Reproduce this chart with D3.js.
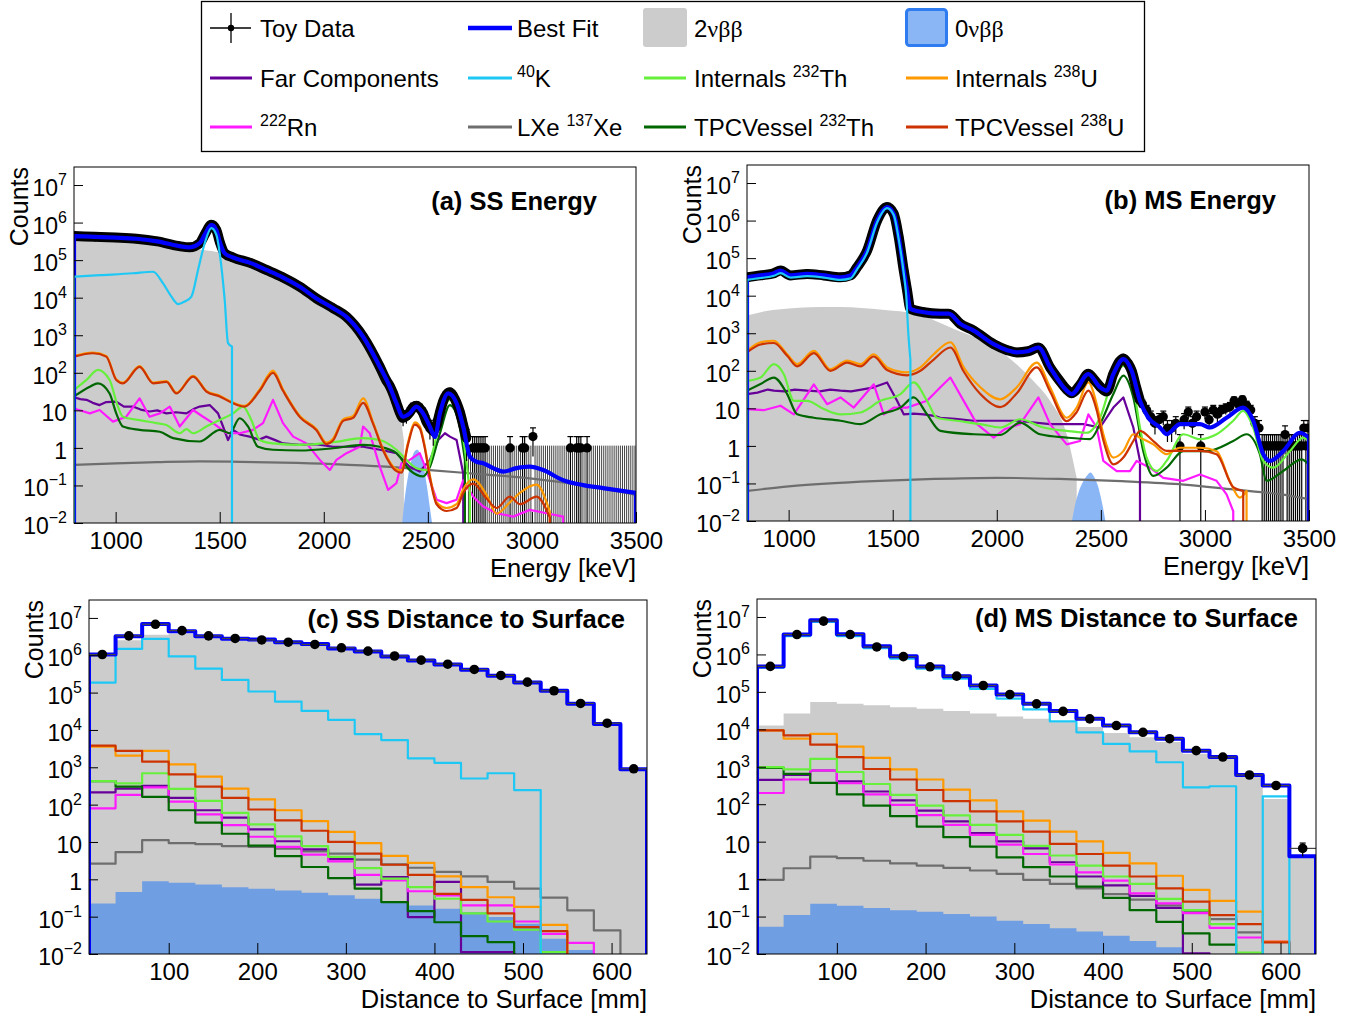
<!DOCTYPE html>
<html>
<head>
<meta charset="utf-8">
<script src="https://cdn.jsdelivr.net/npm/d3@7"></script>
<style>
  body { margin: 0; background: #fff; }
  text { font-family: "Liberation Sans", Arial, Helvetica, sans-serif; fill: #000; }
</style>
</head>
<body>
<svg id="fig" width="1367" height="1021"></svg>
<script>
// every count below is log10(counts); null = empty bin

// ---------- (a) SS energy : [keV, log10 counts] ----------
const ssTotal = [[800,5.64],[900,5.62],[1000,5.6],[1100,5.57],[1200,5.5],[1300,5.38],[1356,5.34],[1404,5.45],[1430,5.7],[1460,5.94],[1484,5.8],[1500,5.49],[1524,5.18],[1564,5.07],[1650,4.92],[1724,4.74],[1800,4.55],[1885,4.29],[1965,3.98],[2045,3.72],[2109,3.49],[2189,2.96],[2269,2.16],[2317,1.63],[2349,1.19],[2381,0.83],[2413,0.92],[2445,1.1],[2477,0.92],[2510,0.56],[2534,0.29],[2558,0.92],[2598,1.45],[2638,1.19],[2670,0.56],[2702,-0.23],[2734,-0.37],[2766,-0.41],[2814,-0.54],[2862,-0.63],[2926,-0.54],[2990,-0.5],[3054,-0.59],[3150,-0.86],[3246,-0.99],[3342,-1.07],[3500,-1.2]];
const ssData = [[800,5.64],[900,5.62],[1000,5.6],[1100,5.57],[1200,5.5],[1300,5.38],[1356,5.34],[1404,5.45],[1430,5.7],[1460,5.94],[1484,5.8],[1500,5.49],[1524,5.18],[1564,5.07],[1650,4.92],[1724,4.74],[1800,4.55],[1885,4.29],[1965,3.98],[2045,3.72],[2109,3.49],[2189,2.96],[2269,2.16],[2300,1.8],[2317,1.65],[2333,1.45],[2349,1.2],[2365,0.95],[2381,0.8],[2397,0.85],[2413,0.95],[2429,1.08],[2445,1.12],[2461,1.05],[2477,0.93],[2493,0.7],[2510,0.55],[2526,0.45],[2542,0.6],[2558,0.95],[2574,1.25],[2590,1.42],[2606,1.48],[2622,1.38],[2638,1.2],[2654,0.95],[2670,0.6],[2686,0.25]];
// high-energy tail of the SS toy data: 10 keV bins, only the non-empty ones listed
const ssTailE = [2715,2725,2735,2745,2755,2765,2775,2895,2955,2965,3005,3185,3215,3225,3235,3265];
const ssTailN = [1,1,1,1,1,1,1,1,1,1,2,1,1,1,1,1];
const ssEmptyRange = [2690, 3500];
const ssBB2 = [[800,5.6],[900,5.59],[1000,5.57],[1100,5.53],[1200,5.46],[1300,5.35],[1400,5.28],[1460,5.24],[1500,5.2],[1564,5.06],[1650,4.91],[1724,4.73],[1800,4.54],[1885,4.28],[1965,3.97],[2045,3.7],[2109,3.46],[2189,2.93],[2269,2.12],[2317,1.58],[2349,1.12],[2370,0.75],[2385,0.2],[2395,null]];
const ssBB0 = [[2375,-2.1],[2390,-1.3],[2405,-0.75],[2420,-0.35],[2435,-0.1],[2450,-0.05],[2465,-0.2],[2480,-0.5],[2495,-1.0],[2510,-1.6],[2525,-2.2]];
const ssK40 = [[800,4.56],[925,4.6],[1083,4.65],[1180,4.69],[1228,4.38],[1268,4.03],[1300,3.83],[1332,3.9],[1364,4.03],[1396,4.74],[1428,5.45],[1460,5.85],[1484,5.67],[1500,5.18],[1524,3.94],[1540,2.79],[1559,2.7],[1560,null]];
const ssUInt = [[800,2.45],[891,2.54],[955,2.45],[1003,1.83],[1035,1.74],[1115,2.18],[1180,1.74],[1244,1.78],[1292,1.47],[1372,1.92],[1436,1.52],[1500,1.39],[1564,1.21],[1620,1.12],[1692,1.56],[1756,2.06],[1804,1.56],[1885,0.85],[1965,0.5],[2013,0.14],[2045,0.25],[2093,0.76],[2141,0.85],[2189,1.32],[2237,0.68],[2285,-0.03],[2349,-0.57],[2373,-0.6],[2405,0.15],[2437,0.68],[2461,0.58],[2485,0.05],[2510,-0.74],[2542,-1.45],[2590,-1.6],[2638,-1.5],[2670,-1.1],[2718,-0.84],[2782,-1.25],[2830,-1.75],[2894,-1.45],[2942,-1.2],[3022,-0.98],[3086,-1.7],[3118,null]];
const ssUVes = [[800,2.43],[891,2.52],[955,2.43],[1003,1.81],[1035,1.72],[1115,2.16],[1180,1.72],[1244,1.76],[1292,1.45],[1372,1.9],[1436,1.5],[1500,1.37],[1564,1.19],[1620,1.1],[1692,1.52],[1756,2.0],[1804,1.52],[1885,0.82],[1965,0.47],[2013,0.1],[2045,0.2],[2093,0.72],[2141,0.8],[2189,1.2],[2237,0.64],[2285,-0.07],[2349,-0.62],[2373,-0.66],[2405,0.1],[2437,0.62],[2461,0.52],[2485,0.0],[2510,-0.8],[2542,-1.5],[2590,-1.68],[2638,-1.6],[2670,-1.2],[2718,-0.95],[2782,-1.35],[2830,-1.6],[2894,-1.3],[2942,-1.5],[3022,-1.3],[3086,-1.85],[3110,null]];
const ssThInt = [[800,1.54],[860,1.81],[915,2.08],[971,1.81],[1011,1.1],[1035,0.83],[1115,0.74],[1196,0.66],[1244,0.61],[1308,0.39],[1340,0.5],[1372,0.39],[1436,0.57],[1500,0.74],[1564,0.92],[1612,1.1],[1652,0.74],[1692,0.21],[1756,0.12],[1885,0.08],[2045,0.15],[2189,0.26],[2269,0.21],[2349,-0.05],[2397,-0.32],[2445,-0.54],[2493,-0.59],[2526,-0.05],[2558,0.74],[2606,1.28],[2646,0.92],[2678,-0.05],[2702,-1.2],[2710,null]];
const ssThVes = [[800,1.37],[876,1.63],[915,1.72],[971,1.45],[1003,0.92],[1035,0.57],[1115,0.48],[1212,0.43],[1276,0.26],[1404,0.17],[1500,0.48],[1548,0.39],[1596,0.79],[1636,0.57],[1684,0.03],[1756,-0.05],[1885,-0.07],[2045,-0.01],[2189,0.08],[2269,0.03],[2349,-0.14],[2413,-0.59],[2477,-0.76],[2510,-0.5],[2558,0.39],[2606,1.14],[2646,0.74],[2678,-0.32],[2702,null]];
const ssFar = [[800,1.35],[830,1.3],[860,1.28],[890,1.2],[923,1.14],[955,1.22],[1003,1.23],[1040,1.1],[1083,1.1],[1120,1.02],[1163,0.97],[1200,1.0],[1244,0.92],[1290,0.95],[1340,0.92],[1380,1.05],[1404,1.1],[1452,1.14],[1492,0.92],[1516,0.57],[1540,0.21],[1564,0.48],[1600,0.35],[1644,0.3],[1690,0.22],[1724,0.3],[1770,0.2],[1804,0.12],[1885,0.08],[1960,0.1],[2045,0.03],[2109,0.03],[2189,0.03],[2269,-0.05],[2349,-0.14],[2413,-0.5],[2461,-0.63],[2510,-0.32],[2550,0.21],[2582,0.39],[2606,0.3],[2638,0.21],[2670,-0.68],[2686,null]];
const ssRn = [[800,1.05],[876,0.92],[923,1.01],[987,0.7],[1051,0.83],[1115,1.32],[1163,0.83],[1212,0.92],[1260,1.1],[1308,0.57],[1372,1.01],[1420,0.83],[1468,0.66],[1532,0.39],[1596,0.39],[1660,0.48],[1708,0.66],[1756,1.28],[1804,0.66],[1853,0.3],[1917,0.12],[1981,-0.32],[2029,-0.59],[2061,-0.32],[2109,-0.14],[2173,0.03],[2189,0.57],[2221,0.39],[2269,-0.5],[2309,-1.12],[2349,-0.94],[2373,-0.41],[2413,-0.32],[2461,-0.14],[2493,-0.59],[2542,-1.38],[2590,-1.47],[2638,-1.38],[2670,-0.86],[2718,-1.3],[2766,-1.56],[2830,-1.74],[2910,-1.83],[2990,-1.65],[3070,-1.74],[3150,-1.83],[3198,null]];
const ssXe = [[800,-0.45],[1000,-0.41],[1200,-0.38],[1404,-0.36],[1600,-0.37],[1800,-0.39],[2045,-0.43],[2300,-0.5],[2510,-0.59],[2750,-0.7],[2990,-0.81],[3250,-1.0],[3500,-1.25]];

// ---------- (b) MS energy ----------
const msTotal = [[800,4.49],[865,4.54],[930,4.6],[961,4.67],[1009,4.54],[1089,4.58],[1169,4.54],[1249,4.49],[1297,4.54],[1329,4.76],[1377,5.2],[1425,6.0],[1473,6.36],[1505,6.18],[1529,5.56],[1553,4.67],[1569,4.14],[1585,3.65],[1649,3.56],[1729,3.52],[1769,3.52],[1825,3.25],[1889,3.07],[1985,2.71],[2050,2.55],[2096,2.49],[2150,2.52],[2200,2.62],[2256,2.09],[2336,1.47],[2360,1.38],[2440,1.91],[2496,1.56],[2528,1.47],[2560,1.91],[2608,2.31],[2648,2.0],[2688,1.2],[2728,0.75],[2784,0.49],[2816,0.31],[2880,0.58],[2976,0.58],[3024,0.49],[3104,0.75],[3184,1.02],[3232,0.67],[3280,-0.22],[3312,-0.4],[3376,-0.14],[3456,0.35],[3500,0.22]];
const msData = [[800,4.49],[865,4.54],[930,4.6],[961,4.67],[1009,4.54],[1089,4.58],[1169,4.54],[1249,4.49],[1297,4.54],[1329,4.76],[1377,5.2],[1425,6.0],[1473,6.36],[1505,6.18],[1529,5.56],[1553,4.67],[1569,4.14],[1585,3.65],[1649,3.56],[1729,3.52],[1769,3.52],[1825,3.25],[1889,3.07],[1985,2.71],[2050,2.55],[2096,2.49],[2150,2.52],[2200,2.62],[2256,2.09],[2300,1.75],[2336,1.5],[2360,1.4],[2400,1.62],[2440,1.92],[2470,1.75],[2496,1.58],[2528,1.45],[2560,1.92],[2590,2.25],[2608,2.33],[2630,2.2],[2648,2.0],[2670,1.55],[2688,1.2]];
// MS toy data above 2700 keV: 20 keV bins from 2700, then 10 keV bins from 3275
const msMidStart = 2700, msMidStep = 20;
const msMidN = [13,9,6,4,5,6,3,3,4,1,5,8,4,6,1,8,5,9,7,9,10,11,16,13,17,12,9,4,3];
const msTailStart = 3275, msTailStep = 10;
const msTailN = [1,1,1,1,1,1,1,1,1,1,1,2,1,1,1,1,1,1,1,1,3,1,3];
const msBB2 = [[800,3.47],[900,3.6],[1000,3.66],[1100,3.69],[1209,3.7],[1300,3.69],[1400,3.65],[1500,3.6],[1569,3.56],[1650,3.45],[1729,3.27],[1800,3.1],[1900,2.88],[2000,2.58],[2100,2.15],[2176,1.73],[2256,1.2],[2336,0.31],[2384,-0.85],[2395,null]];
const msBB0 = [[2355,-2.2],[2375,-1.6],[2395,-1.2],[2415,-0.95],[2435,-0.78],[2450,-0.71],[2465,-0.8],[2485,-1.05],[2505,-1.5],[2525,-2.1]];
const msK40 = [[800,4.42],[865,4.47],[930,4.53],[961,4.6],[1009,4.48],[1089,4.52],[1169,4.48],[1249,4.42],[1297,4.46],[1329,4.7],[1377,5.15],[1425,5.95],[1473,6.33],[1505,6.15],[1529,5.5],[1553,4.6],[1565,4.0],[1575,3.0],[1585,2.3],[1590,null]];
const msUInt = [[800,2.53],[865,2.76],[929,2.8],[993,2.44],[1041,2.18],[1121,2.53],[1201,2.04],[1281,2.27],[1345,2.18],[1409,2.44],[1473,2.09],[1569,1.96],[1633,2.09],[1697,2.44],[1777,2.76],[1841,2.09],[1921,1.56],[2016,1.24],[2096,1.56],[2192,2.22],[2256,1.56],[2336,0.75],[2384,1.02],[2440,1.69],[2480,1.11],[2512,0.31],[2560,-0.31],[2608,-0.14],[2656,0.31],[2688,0.22],[2752,0.04],[2816,-0.22],[2880,-0.05],[2976,-0.05],[3056,-0.14],[3120,-0.94],[3168,-1.38],[3200,-1.2],[3232,null]];
const msUVes = [[800,2.49],[865,2.7],[929,2.74],[993,2.4],[1041,2.12],[1121,2.47],[1201,2.0],[1281,2.22],[1345,2.12],[1409,2.38],[1473,2.02],[1569,1.88],[1633,2.0],[1697,2.3],[1777,2.62],[1841,1.98],[1921,1.38],[2016,1.03],[2096,1.4],[2192,2.09],[2256,1.45],[2336,0.66],[2384,0.9],[2440,1.47],[2480,0.95],[2512,0.15],[2560,-0.49],[2608,-0.31],[2656,0.13],[2688,0.4],[2752,0.13],[2816,-0.13],[2880,-0.13],[2976,-0.13],[3056,-0.22],[3136,-1.1],[3184,-1.2],[3224,null]];
const msThInt = [[800,1.73],[865,1.82],[929,2.18],[977,1.91],[1025,1.2],[1089,1.2],[1169,0.98],[1249,0.84],[1345,0.89],[1441,1.2],[1537,1.38],[1601,1.69],[1665,1.2],[1713,0.75],[1809,0.67],[1921,0.58],[2017,0.49],[2112,0.71],[2224,0.49],[2336,0.4],[2432,0.35],[2496,0.75],[2560,1.82],[2608,2.13],[2656,1.56],[2688,0.49],[2720,-0.31],[2768,-0.67],[2816,-0.4],[2896,0.31],[2976,0.18],[3056,0.31],[3136,0.67],[3184,0.93],[3232,0.49],[3280,-0.4],[3328,-0.58],[3408,-0.14],[3472,0.22],[3498,0.13],[3500,null]];
const msThVes = [[800,1.47],[865,1.65],[929,1.82],[993,1.38],[1041,0.84],[1121,0.75],[1249,0.67],[1345,0.58],[1441,0.84],[1537,1.02],[1601,1.29],[1665,0.84],[1729,0.4],[1889,0.31],[2017,0.29],[2112,0.62],[2208,0.31],[2336,0.22],[2448,0.18],[2496,0.58],[2560,1.38],[2608,1.87],[2656,1.29],[2704,-0.14],[2752,-0.8],[2816,-0.58],[2896,-0.14],[3008,-0.14],[3136,0.13],[3200,0.31],[3264,-0.22],[3296,-0.93],[3376,-0.67],[3464,-0.36],[3498,-0.49],[3500,null]];
const msFar = [[800,1.38],[850,1.42],[900,1.5],[929,1.47],[980,1.45],[1030,1.5],[1089,1.47],[1150,1.45],[1200,1.5],[1249,1.47],[1300,1.45],[1350,1.5],[1409,1.56],[1473,1.69],[1521,1.2],[1553,0.84],[1600,0.86],[1649,0.84],[1700,0.8],[1729,0.75],[1800,0.72],[1889,0.67],[2000,0.67],[2096,0.67],[2256,0.58],[2416,0.58],[2496,0.49],[2560,1.02],[2608,1.29],[2656,0.49],[2688,-0.4],[2712,null]];
const msRn = [[800,0.98],[880,0.95],[961,1.07],[1025,0.84],[1121,1.64],[1185,1.11],[1249,1.29],[1313,1.02],[1409,1.64],[1457,0.84],[1505,1.02],[1569,1.02],[1665,1.2],[1729,1.56],[1777,1.82],[1841,1.2],[1905,0.58],[1985,0.22],[2040,0.45],[2112,0.58],[2200,1.29],[2256,0.58],[2336,0.04],[2400,0.13],[2440,0.84],[2480,0.49],[2512,-0.4],[2576,-0.67],[2640,-0.67],[2672,-0.4],[2736,-0.58],[2800,-0.85],[2896,-0.93],[2976,-0.76],[3056,-0.93],[3104,-1.29],[3136,-1.74],[3168,null]];
const msXe = [[800,-1.2],[1000,-1.08],[1200,-1.0],[1409,-0.94],[1700,-0.88],[2000,-0.85],[2300,-0.88],[2600,-0.94],[2900,-1.03],[3136,-1.16],[3350,-1.28],[3500,-1.42]];

// ---------- (c) SS and (d) MS distance to surface: 21 bins of 30 mm from 10 mm ----------
const distLo = 10, distW = 30;
const scTotal = [6.02,6.51,6.84,6.64,6.51,6.44,6.42,6.35,6.3,6.18,6.1,5.97,5.86,5.75,5.61,5.45,5.27,5.05,4.7,4.16,2.95];
const scData  = [6.02,6.52,6.83,6.66,6.52,6.45,6.41,6.35,6.29,6.2,6.11,5.98,5.87,5.76,5.62,5.46,5.28,5.05,4.71,4.18,2.96];
const scBB2   = [5.97,6.4,6.55,6.58,6.47,6.42,6.4,6.33,6.29,6.2,6.09,5.96,5.85,5.74,5.6,5.44,5.26,5.04,4.7,4.16,2.95];
const scBB0   = [-0.65,-0.34,-0.05,-0.09,-0.14,-0.21,-0.25,-0.3,-0.36,-0.43,-0.52,-0.58,-0.7,-0.79,-0.88,-1.01,-1.19,-1.59,-1.89,null,null];
const scK40   = [5.27,6.17,6.44,5.97,5.64,5.34,5.03,4.76,4.51,4.27,3.89,3.73,3.24,3.12,2.7,2.84,2.39,null,null,null,null];
const scUInt  = [3.55,3.31,3.44,3.08,2.75,2.43,2.14,1.85,1.56,1.27,0.97,0.63,0.44,0.08,-0.21,-0.48,-0.74,-1.22,null,null,null];
const scUVes  = [3.58,3.44,3.15,2.81,2.48,2.18,1.87,1.58,1.3,1.0,0.69,0.39,0.12,-0.39,-0.55,-0.91,-1.28,-1.39,null,null,null];
const scThInt = [2.63,2.57,2.84,2.42,2.1,1.78,1.47,1.15,0.89,0.6,0.3,0.02,-0.21,-0.52,-0.91,-1.13,-1.35,-1.95,null,null,null];
const scThVes = [2.63,2.48,2.21,1.85,1.52,1.22,0.9,0.62,0.33,0.03,-0.25,-0.61,-0.85,-1.15,-1.52,-1.68,null,null,null,null,null];
const scFar   = [2.33,2.43,2.5,2.18,1.85,1.65,1.34,1.02,0.8,0.54,-0.14,0.06,-1.01,-0.07,-1.95,-1.95,null,null,null,null,null];
const scRn    = [1.9,2.26,2.46,2.08,1.74,1.45,1.14,0.87,0.66,0.48,0.12,-0.03,-0.32,-0.43,-0.7,-0.7,-1.13,-1.46,-1.7,null,null];
const scXe    = [0.42,0.73,1.05,0.97,0.94,0.89,0.87,0.82,0.75,0.69,0.53,0.4,0.31,0.2,0.08,-0.07,-0.25,-0.49,-0.83,-1.37,null];

const sdTotal = [5.68,6.53,6.91,6.54,6.22,5.95,5.68,5.42,5.17,4.93,4.68,4.49,4.28,4.1,3.92,3.75,3.43,3.26,2.78,2.5,0.61];
const sdData  = [5.68,6.53,6.89,6.53,6.2,5.94,5.67,5.42,5.17,4.93,4.68,4.48,4.28,4.1,3.92,3.75,3.43,3.26,2.78,2.5,0.82];
const sdBB2   = [4.1,4.42,4.73,4.68,4.64,4.59,4.55,4.49,4.42,4.34,4.28,4.19,4.06,3.9,3.79,3.66,3.35,3.21,2.77,2.14,0.58];
const sdBB0   = [-1.27,-0.96,-0.66,-0.71,-0.77,-0.83,-0.87,-0.93,-1.0,-1.11,-1.2,-1.31,-1.4,-1.51,-1.65,-1.82,null,null,null,null,null];
const sdK40   = [5.65,6.49,6.87,6.49,6.17,5.89,5.62,5.35,5.08,4.82,4.53,4.21,3.92,3.61,3.41,3.12,2.45,2.48,null,2.21,null];
const sdUInt  = [3.97,3.75,3.88,3.54,3.24,2.93,2.66,2.39,2.1,1.81,1.56,1.27,1.01,0.7,0.42,0.09,-0.29,-0.58,-0.87,-1.67,null];
const sdUVes  = [3.97,3.84,3.59,3.26,2.94,2.66,2.38,2.08,1.81,1.54,1.27,0.94,0.67,0.36,0.07,-0.25,-0.6,-0.96,-1.2,-1.69,null];
const sdThInt = [2.99,2.93,3.21,2.86,2.54,2.25,1.96,1.7,1.45,1.18,0.89,0.63,0.36,0.07,-0.13,-0.53,-0.83,-1.2,-1.96,null,null];
const sdThVes = [2.97,2.81,2.57,2.26,1.96,1.68,1.4,1.12,0.87,0.58,0.32,0.07,-0.2,-0.5,-0.83,-1.14,-1.45,-1.75,null,null,null];
const sdFar   = [2.65,2.78,2.9,2.61,2.34,2.1,1.83,1.54,1.23,1.01,0.82,0.45,0.07,-0.17,-0.45,-0.77,-1.98,null,null,null,null];
const sdRn    = [2.3,2.66,2.9,2.56,2.26,1.98,1.71,1.45,1.18,0.92,0.67,0.39,0.18,-0.04,-0.38,-0.65,-0.91,-1.3,-1.56,-1.67,null];
const sdXe    = [-0.02,0.29,0.6,0.56,0.49,0.42,0.36,0.3,0.23,0.14,-0.02,-0.13,-0.25,-0.4,-0.55,-0.7,-0.85,-1.07,-1.42,null,null];

// axis ticks
const yMajorExp = [-2,-1,0,1,2,3,4,5,6,7];
const eMajor = [1000,1500,2000,2500,3000,3500];
const dMajor = [100,200,300,400,500,600];

const colors = {
  total: "#0000ff", k40: "#1ec8f5", thInt: "#66f03c", uInt: "#ff9900", far: "#660099",
  rn: "#ff1aff", xe: "#6e6e6e", thVes: "#006600", uVes: "#cc3300",
  bb2: "#cccccc", bb0e: "#8ab6f6", bb0d: "#6f9fe2"
};

const svg = d3.select("#fig");
const YMIN = 1e-2, YMAX = Math.pow(10, 7.48);

function setup(p, xDomain) {
  const x = d3.scaleLinear().domain(xDomain).range([p.left, p.right]);
  const y = d3.scaleLog().domain([YMIN, YMAX]).range([p.bottom, p.top]);
  const yv = v => y(Math.pow(10, v));
  svg.append("clipPath").attr("id", "clip-" + p.id)
    .append("rect").attr("x", p.left).attr("y", p.top)
    .attr("width", p.right - p.left).attr("height", p.bottom - p.top);
  const g = svg.append("g");
  const plot = g.append("g").attr("clip-path", "url(#clip-" + p.id + ")");
  return { p, x, y, yv, floor: p.bottom + 8, g, plot };
}

function runsOf(pairs) {
  const out = []; let cur = [];
  pairs.forEach(d => {
    if (d[1] == null) { if (cur.length) out.push(cur); cur = []; }
    else cur.push(d);
  });
  if (cur.length) out.push(cur);
  return out;
}

// spectrum with a drop to the floor at both ends, like a ROOT histogram
function curvePath(P, pairs, curve) {
  const line = d3.line().x(d => P.x(d[0])).y(d => P.yv(d[1])).curve(curve || d3.curveMonotoneX);
  return runsOf(pairs).map(r => {
    const a = r[0], b = r[r.length - 1];
    return "M" + P.x(a[0]) + "," + P.floor + "L" + line(r).slice(1) + "L" + P.x(b[0]) + "," + P.floor;
  }).join("");
}
function areaPath(P, pairs) {
  const area = d3.area().x(d => P.x(d[0])).y0(P.floor).y1(d => P.yv(d[1])).curve(d3.curveMonotoneX);
  return runsOf(pairs).map(r => area(r)).join("");
}

function histPath(P, vals) {
  let d = "", on = false;
  vals.forEach((v, k) => {
    const x0 = P.x(distLo + k * distW), x1 = P.x(distLo + (k + 1) * distW);
    if (v == null) { if (on) { d += "L" + x0 + "," + P.floor; on = false; } return; }
    const yy = P.yv(v);
    d += on ? "L" + x0 + "," + yy : "M" + x0 + "," + P.floor + "L" + x0 + "," + yy;
    d += "L" + x1 + "," + yy;
    on = true;
  });
  if (on) d += "L" + P.x(distLo + vals.length * distW) + "," + P.floor;
  return d;
}

function stroke(P, d, color, w) {
  P.plot.append("path").attr("d", d).attr("fill", "none").attr("stroke", color)
    .attr("stroke-width", w).attr("stroke-linejoin", "round");
}
function fill(P, d, color) {
  P.plot.append("path").attr("d", d).attr("fill", color).attr("stroke", "none");
}

// one data point with sqrt(N) error bar, N given as a count
function dataPoint(P, e, n, r, halfW) {
  const g = P.plot.append("g");
  const err = Math.sqrt(n);
  const yLo = n - err > 0 ? P.y(n - err) : P.floor;
  const yHi = P.y(n + err);
  const cx = P.x(e);
  g.append("line").attr("x1", cx).attr("x2", cx).attr("y1", yLo).attr("y2", yHi)
    .attr("stroke", "#000").attr("stroke-width", 1.2);
  g.append("line").attr("x1", cx - 3).attr("x2", cx + 3).attr("y1", yHi).attr("y2", yHi)
    .attr("stroke", "#000").attr("stroke-width", 1.2);
  if (halfW) {
    g.append("line").attr("x1", cx - halfW).attr("x2", cx + halfW).attr("y1", P.y(n)).attr("y2", P.y(n))
      .attr("stroke", "#444").attr("stroke-width", 1.2);
  }
  g.append("circle").attr("cx", cx).attr("cy", P.y(n)).attr("r", r).attr("fill", "#000");
}

function axes(P, majorX, minorX, xTitle) {
  const p = P.p;
  const ax = P.g.append("g").attr("transform", "translate(0," + p.bottom + ")");
  ax.call(d3.axisBottom(P.x).tickValues(minorX).tickSize(-5).tickFormat(""));
  ax.call(d3.axisBottom(P.x).tickValues(majorX).tickSizeInner(-11).tickSizeOuter(0).tickPadding(9).tickFormat(d3.format("d")));
  ax.selectAll(".domain").remove();
  ax.selectAll("text").attr("font-size", 24).attr("font-family", "Liberation Sans, Arial, sans-serif").attr("fill", "#000");

  const minorY = [];
  yMajorExp.forEach(k => { for (let m = 2; m <= 9; m++) { const v = m * Math.pow(10, k); if (v < YMAX) minorY.push(v); } });
  const ay = P.g.append("g").attr("transform", "translate(" + p.left + ",0)");
  ay.call(d3.axisLeft(P.y).tickValues(minorY).tickSize(-5).tickFormat(""));
  ay.call(d3.axisLeft(P.y).tickValues(yMajorExp.map(k => Math.pow(10, k))).tickSizeInner(-9).tickSizeOuter(0).tickFormat(""));
  ay.selectAll(".domain").remove();
  P.g.selectAll(".tick line").attr("stroke", "#000");

  yMajorExp.forEach(k => {
    const yy = P.y(Math.pow(10, k));
    const t = P.g.append("text").attr("x", p.left - 7).attr("y", yy + 11)
      .attr("text-anchor", "end").attr("font-size", 23);
    if (k === 0) t.text("1");
    else if (k === 1) t.text("10");
    else {
      t.append("tspan").text("10");
      t.append("tspan").attr("dy", -11).attr("font-size", 16).text(k < 0 ? "\u2212" + (-k) : String(k));
    }
  });

  P.g.append("rect").attr("x", p.left).attr("y", p.top).attr("width", p.right - p.left)
    .attr("height", p.bottom - p.top).attr("fill", "none").attr("stroke", "#000").attr("stroke-width", 1);

  P.g.append("text").attr("text-anchor", "end").attr("font-size", 25)
    .attr("transform", "translate(" + (p.left - 46) + "," + p.top + ") rotate(-90)").text("Counts");
  P.g.append("text").attr("x", p.right).attr("y", p.bottom + 54).attr("text-anchor", "end")
    .attr("font-size", 25.5).text(xTitle);
  P.g.append("text").attr("x", p.titleX).attr("y", p.titleY).attr("text-anchor", "end")
    .attr("font-size", 25.5).attr("font-weight", "bold").text(p.title);
}

// ---------------- energy panels ----------------
function energyPanel(p, s) {
  const P = setup(p, [800, 3500]);
  fill(P, areaPath(P, s.bb2), colors.bb2);
  fill(P, areaPath(P, s.bb0), colors.bb0e);

  // empty / low-count toy-data bins first, so the curves sit on top of the hatch
  s.sparse(P);

  [[s.xe, "xe"], [s.far, "far"], [s.rn, "rn"], [s.thVes, "thVes"], [s.thInt, "thInt"], [s.uInt, "uInt"], [s.uVes, "uVes"]]
    .forEach(([d, c]) => stroke(P, curvePath(P, d, (c === "far" || c === "rn") ? d3.curveLinear : null), colors[c], 2.2));

  // dense toy data: overlapping markers form a black band around the fit
  const dline = d3.line().x(d => P.x(d[0])).y(d => P.yv(d[1])).curve(d3.curveMonotoneX);
  stroke(P, dline(s.data), "#000", 10);
  s.data.forEach(d => dataPoint(P, d[0], Math.pow(10, d[1]), 4.6, 0));

  stroke(P, curvePath(P, s.total), colors.total, 4.2);
  stroke(P, curvePath(P, s.k40), colors.k40, 2.2);

  const minor = d3.range(800, 3501, 100);
  axes(P, eMajor, minor, "Energy [keV]");
}

energyPanel(
  { id: "a", left: 74, right: 636, top: 167, bottom: 523, title: "(a) SS Energy", titleX: 597, titleY: 210 },
  { total: ssTotal, data: ssData, bb2: ssBB2, bb0: ssBB0, k40: ssK40, uInt: ssUInt, uVes: ssUVes,
    thInt: ssThInt, thVes: ssThVes, far: ssFar, rn: ssRn, xe: ssXe,
    sparse: P => {
      const filled = new Set(ssTailE);
      for (let e = ssEmptyRange[0] + 5; e < ssEmptyRange[1]; e += 10) {
        if (filled.has(e)) continue;
        P.plot.append("line").attr("x1", P.x(e)).attr("x2", P.x(e)).attr("y1", P.floor).attr("y2", P.y(1.15))
          .attr("stroke", "#000").attr("stroke-width", 1).attr("stroke-opacity", 0.75);
      }
      ssTailE.forEach((e, i) => dataPoint(P, e, ssTailN[i], 4.6, 0));
    } });

energyPanel(
  { id: "b", left: 747, right: 1309, top: 165, bottom: 521, title: "(b) MS Energy", titleX: 1276, titleY: 209 },
  { total: msTotal, data: msData, bb2: msBB2, bb0: msBB0, k40: msK40, uInt: msUInt, uVes: msUVes,
    thInt: msThInt, thVes: msThVes, far: msFar, rn: msRn, xe: msXe,
    sparse: P => {
      msMidN.forEach((n, i) => dataPoint(P, msMidStart + i * msMidStep, n, 4.6, 0));
      msTailN.forEach((n, i) => dataPoint(P, msTailStart + i * msTailStep, n, 4.6, 0));
    } });

// ---------------- distance panels ----------------
function distPanel(p, s) {
  const P = setup(p, [distLo, distLo + 21 * distW]);
  fill(P, histPath(P, s.bb2), colors.bb2);
  fill(P, histPath(P, s.bb0), colors.bb0d);
  [[s.xe, "xe"], [s.far, "far"], [s.rn, "rn"], [s.thVes, "thVes"], [s.thInt, "thInt"], [s.uInt, "uInt"], [s.uVes, "uVes"], [s.k40, "k40"]]
    .forEach(([d, c]) => stroke(P, histPath(P, d), colors[c], 2.2));
  stroke(P, histPath(P, s.total), colors.total, 4);
  const halfW = (P.x(distW) - P.x(0)) / 2;
  s.data.forEach((v, k) => dataPoint(P, distLo + (k + 0.5) * distW, Math.pow(10, v), 4.8, halfW));
  axes(P, dMajor, d3.range(20, 641, 20), "Distance to Surface [mm]");
}

distPanel(
  { id: "c", left: 89, right: 647, top: 600, bottom: 954, title: "(c) SS Distance to Surface", titleX: 625, titleY: 628 },
  { total: scTotal, data: scData, bb2: scBB2, bb0: scBB0, k40: scK40, uInt: scUInt, uVes: scUVes,
    thInt: scThInt, thVes: scThVes, far: scFar, rn: scRn, xe: scXe });

distPanel(
  { id: "d", left: 757, right: 1316, top: 599, bottom: 954, title: "(d) MS Distance to Surface", titleX: 1298, titleY: 627 },
  { total: sdTotal, data: sdData, bb2: sdBB2, bb0: sdBB0, k40: sdK40, uInt: sdUInt, uVes: sdUVes,
    thInt: sdThInt, thVes: sdThVes, far: sdFar, rn: sdRn, xe: sdXe });

// ---------------- legend ----------------
const legendRows = [
  [{ sym: "data", label: [["Toy Data"]] }, { sym: "total", label: [["Best Fit"]] },
   { sym: "bb2", label: [["2"], ["\u03bd\u03b2\u03b2", "serif"]] }, { sym: "bb0", label: [["0"], ["\u03bd\u03b2\u03b2", "serif"]] }],
  [{ sym: "far", label: [["Far Components"]] }, { sym: "k40", label: [["40", "sup"], ["K"]] },
   { sym: "thInt", label: [["Internals "], ["232", "sup"], ["Th"]] }, { sym: "uInt", label: [["Internals "], ["238", "sup"], ["U"]] }],
  [{ sym: "rn", label: [["222", "sup"], ["Rn"]] }, { sym: "xe", label: [["LXe "], ["137", "sup"], ["Xe"]] },
   { sym: "thVes", label: [["TPCVessel "], ["232", "sup"], ["Th"]] }, { sym: "uVes", label: [["TPCVessel "], ["238", "sup"], ["U"]] }]
];
const legCols = [210, 468, 644, 906];
const legText = [260, 517, 694, 955];
const legRowsY = [28, 78, 127];
const leg = svg.append("g");
leg.append("rect").attr("x", 201.5).attr("y", 1.5).attr("width", 943).attr("height", 150)
  .attr("fill", "#fff").attr("stroke", "#000").attr("stroke-width", 1.3);

legendRows.forEach((row, ri) => {
  const cy = legRowsY[ri];
  row.forEach((item, ci) => {
    const x0 = legCols[ci];
    if (item.sym === "data") {
      leg.append("line").attr("x1", x0).attr("x2", x0 + 41).attr("y1", cy).attr("y2", cy).attr("stroke", "#000").attr("stroke-width", 1.3);
      leg.append("line").attr("x1", x0 + 21).attr("x2", x0 + 21).attr("y1", cy - 15).attr("y2", cy + 15).attr("stroke", "#000").attr("stroke-width", 1.3);
      leg.append("circle").attr("cx", x0 + 21).attr("cy", cy).attr("r", 3.2).attr("fill", "#000");
    } else if (item.sym === "bb2") {
      leg.append("rect").attr("x", x0 - 1).attr("y", cy - 20).attr("width", 44).attr("height", 39).attr("rx", 3).attr("fill", colors.bb2);
    } else if (item.sym === "bb0") {
      leg.append("rect").attr("x", x0 + 0.5).attr("y", cy - 18.5).attr("width", 40).attr("height", 36).attr("rx", 3)
        .attr("fill", colors.bb0e).attr("stroke", "#2f7bf0").attr("stroke-width", 3);
    } else {
      leg.append("line").attr("x1", x0).attr("x2", x0 + (ci === 1 ? 44 : 42)).attr("y1", cy).attr("y2", cy)
        .attr("stroke", colors[item.sym]).attr("stroke-width", item.sym === "total" ? 4.5 : 3);
    }
    const t = leg.append("text").attr("x", legText[ci]).attr("y", cy + 9).attr("font-size", 24);
    let raised = false;
    item.label.forEach(([s, kind]) => {
      const ts = t.append("tspan").text(s);
      if (kind === "sup") { ts.attr("font-size", 16).attr("dy", -10); raised = true; }
      else if (raised) { ts.attr("dy", 10); raised = false; }
      if (kind === "serif") ts.attr("font-family", "Liberation Serif, DejaVu Serif, serif");
    });
  });
});
</script>
</body>
</html>
